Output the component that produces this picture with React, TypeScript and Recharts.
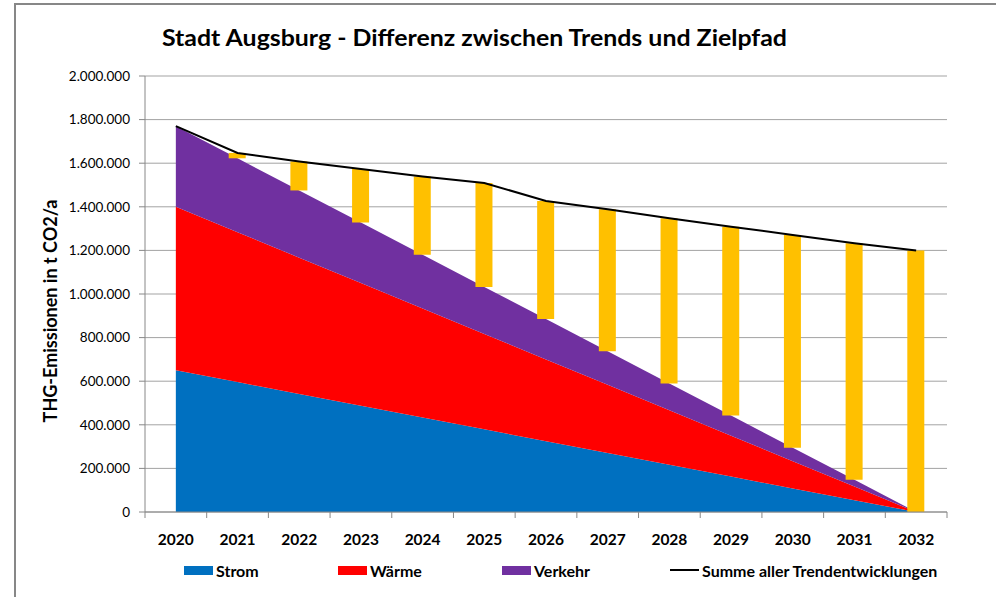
import React from "react"
import { ComposedChart, Area, Bar, Line, XAxis, YAxis, CartesianGrid } from "recharts"

const years = ["2020", "2021", "2022", "2023", "2024", "2025", "2026", "2027", "2028", "2029", "2030", "2031", "2032"]
const strom = [650000, 595833, 541667, 487500, 433333, 379167, 325000, 270833, 216667, 162500, 108333, 54167, 0]
const waerme = [750000, 687500, 625000, 562500, 500000, 437500, 375000, 312500, 250000, 187500, 125000, 62500, 0]
const verkehr = [370000, 339167, 308333, 277500, 246667, 215833, 185000, 154167, 123333, 92500, 61667, 30833, 0]
const trend = [1770000, 1647000, 1608000, 1573000, 1539000, 1509000, 1427000, 1389000, 1347000, 1309000, 1271000, 1233000, 1200000]
const yTicks = [0, 200000, 400000, 600000, 800000, 1000000, 1200000, 1400000, 1600000, 1800000, 2000000]

const W = 996
const H = 597
const M = { top: 76, right: 49, bottom: 45, left: 45 }
const Y_AXIS_W = 100
const BAND = (W - M.left - Y_AXIS_W - M.right) / years.length

const FONT = "Lato, 'Open Sans', sans-serif"

const data = years.map((year, i) => {
  const ziel = strom[i] + waerme[i] + verkehr[i]
  return {
    year,
    strom: strom[i],
    waerme: waerme[i],
    verkehr: verkehr[i],
    trend: trend[i],
    gap: [ziel, trend[i]],
  }
})

const fmt = (v: number) => String(v).replace(/\B(?=(\d{3})+(?!\d))/g, ".")

function YearTick(props: any) {
  const { x, y, payload, index } = props
  return (
    <g>
      <line x1={x - BAND / 2} x2={x - BAND / 2} y1={y} y2={y + 6} stroke="#888" />
      {index === years.length - 1 && (
        <line x1={x + BAND / 2} x2={x + BAND / 2} y1={y} y2={y + 6} stroke="#888" />
      )}
      <text x={x} y={y + 33} textAnchor="middle" fontFamily={FONT} fontWeight={700} fontSize={15.5} fill="#000">
        {payload.value}
      </text>
    </g>
  )
}

const legendItems = [
  { label: "Strom", color: "#0070C0", left: 184, type: "rect" },
  { label: "Wärme", color: "#FF0000", left: 338, type: "rect" },
  { label: "Verkehr", color: "#7030A0", left: 502, type: "rect" },
  { label: "Summe aller Trendentwicklungen", color: "#000", left: 670, type: "line" },
]

export default function App() {
  return (
    <div style={{ position: "fixed", left: 0, top: 0, width: W, height: H, background: "#fff", overflow: "hidden" }}>
      <div style={{ position: "absolute", left: 14, top: 3, right: 0, bottom: 0, borderTop: "2px solid #878787", borderLeft: "2px solid #878787" }} />
      <svg style={{ position: "absolute", left: 0, top: 0 }} width={W} height={70}>
        <text x={162} y={46} textLength={625} lengthAdjust="spacingAndGlyphs" fontFamily={FONT} fontWeight={700} fontSize={23} fill="#000">
          Stadt Augsburg - Differenz zwischen Trends und Zielpfad
        </text>
      </svg>
      <div
        style={{
          position: "absolute",
          left: 50,
          top: 311,
          transform: "translate(-50%, -50%) rotate(-90deg)",
          whiteSpace: "nowrap",
          fontFamily: FONT,
          fontWeight: 700,
          fontSize: 18,
          color: "#000",
        }}
      >
        THG-Emissionen in t CO2/a
      </div>
      <div style={{ position: "absolute", left: 0, top: 0 }}>
        <ComposedChart width={W} height={H} data={data} margin={M}>
          <CartesianGrid vertical={false} stroke="#a3a3a3" strokeWidth={1} />
          <XAxis
            dataKey="year"
            height={40}
            stroke="#888"
            tickLine={false}
            tickSize={0}
            tickMargin={0}
            tick={<YearTick />}
            interval={0}
          />
          <YAxis
            width={Y_AXIS_W}
            domain={[0, 2000000]}
            ticks={yTicks}
            tickFormatter={fmt}
            stroke="#888"
            tickSize={6}
            tickMargin={9}
            tick={{ fill: "#000", fontFamily: FONT, fontSize: 13.5 }}
            interval={0}
          />
          <Area type="linear" dataKey="strom" stackId="z" fill="#0070C0" fillOpacity={1} stroke="none" isAnimationActive={false} />
          <Area type="linear" dataKey="waerme" stackId="z" fill="#FF0000" fillOpacity={1} stroke="none" isAnimationActive={false} />
          <Area type="linear" dataKey="verkehr" stackId="z" fill="#7030A0" fillOpacity={1} stroke="none" isAnimationActive={false} />
          <Bar dataKey="gap" fill="#FFC000" barSize={17} isAnimationActive={false} />
          <Line type="linear" dataKey="trend" stroke="#000" strokeWidth={2} dot={false} isAnimationActive={false} />
        </ComposedChart>
      </div>
      {legendItems.map((it) => (
        <div
          key={it.label}
          style={{
            position: "absolute",
            left: it.left,
            top: 560,
            height: 20,
            display: "flex",
            alignItems: "center",
            fontFamily: FONT,
            fontWeight: 700,
            fontSize: 16,
            color: "#000",
            whiteSpace: "nowrap",
          }}
        >
          {it.type === "rect" ? (
            <span style={{ display: "inline-block", width: 29, height: 9, background: it.color, marginRight: 3 }} />
          ) : (
            <span style={{ display: "inline-block", width: 29, height: 2, background: it.color, marginRight: 3 }} />
          )}
          {it.label}
        </div>
      ))}
    </div>
  )
}
